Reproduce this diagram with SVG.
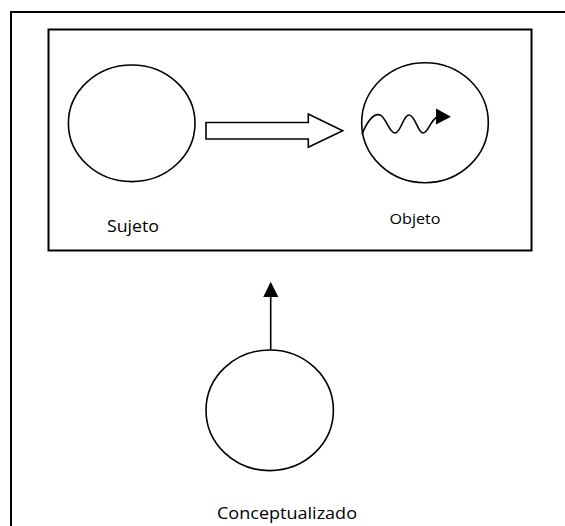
<svg xmlns="http://www.w3.org/2000/svg" width="565" height="526" viewBox="0 0 565 526">
<style>
.frame{fill:none;stroke:#000;stroke-width:2}
.node{fill:#fff;stroke:#000;stroke-width:1.6}
.lbl{font-family:"Open Sans","DejaVu Sans",sans-serif;fill:#000}
.conn{fill:none;stroke:#000;stroke-width:1.6}
</style>
<rect width="565" height="526" fill="#fff"/>
<g id="outer-frame">
<path class="frame" d="M11,528 L11,12 L567,12"/>
</g>
<g id="inner-frame">
<rect class="frame" x="48.5" y="29.5" width="483" height="221"/>
</g>
<g id="sujeto">
<ellipse class="node" cx="131.7" cy="123.3" rx="63.3" ry="58.3"/>
<text class="lbl" x="107" y="232" font-size="17" textLength="52" lengthAdjust="spacingAndGlyphs">Sujeto</text>
</g>
<g id="objeto">
<ellipse class="node" cx="425" cy="122.7" rx="63.3" ry="60"/>
<text class="lbl" x="389.5" y="224" font-size="15" textLength="51" lengthAdjust="spacingAndGlyphs">Objeto</text>
</g>
<g id="conceptualizado">
<ellipse class="node" cx="269.7" cy="410.3" rx="63.7" ry="60.3"/>
<text class="lbl" x="217" y="519" font-size="17" textLength="140" lengthAdjust="spacingAndGlyphs">Conceptualizado</text>
</g>
<g id="connectors">
<path class="conn" fill="#fff" d="M206,122.5 L308.3,122.5 L308.3,114 L342.7,130.7 L308.3,147.3 L308.3,139 L206,139 Z"/>
<path class="conn" d="M362,134 C368,120 374,113 380,115 C386,117 389,133 395,133 C401,133 403,115 409,115 C415,115 418,133 423,133 C428,133 430,121 437,117"/>
<polygon points="436,108.5 451,116.7 436,124.5" fill="#000"/>
<line class="conn" x1="270.7" y1="350" x2="270.7" y2="296"/>
<polygon points="263.3,297 270.7,281.7 278.3,297" fill="#000"/>
</g>
</svg>
